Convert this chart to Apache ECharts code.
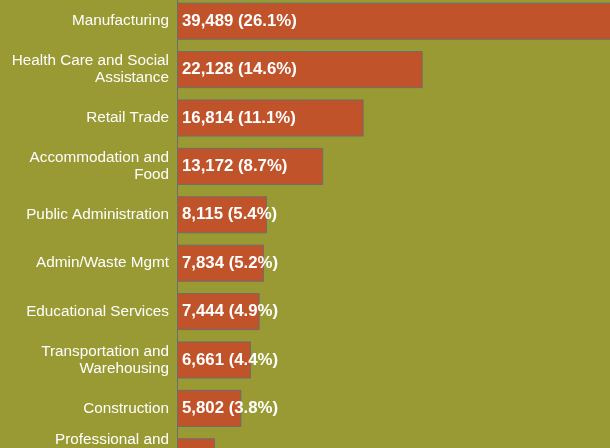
<!DOCTYPE html>
<html>
<head>
<meta charset="utf-8">
<script src="https://cdn.jsdelivr.net/npm/echarts@6/dist/echarts.min.js"></script>
<style>
  html, body { margin: 0; padding: 0; background: #9a9a34; }
  #main { width: 610px; height: 448px; }
</style>
</head>
<body>
<div id="main"></div>
<script>
// industries, largest first
var industries = [
    'Manufacturing',
    'Health Care and Social\nAssistance',
    'Retail Trade',
    'Accommodation and\nFood',
    'Public Administration',
    'Admin/Waste Mgmt',
    'Educational Services',
    'Transportation and\nWarehousing',
    'Construction',
    'Professional and\nTechnical\nServices'
];
var jobs = [39489, 22128, 16814, 13172, 8115, 7834, 7444, 6661, 5802, 3420];
var shares = [26.1, 14.6, 11.1, 8.7, 5.4, 5.2, 4.9, 4.4, 3.8, 2.3];

function fmt(n) {
    return String(n).replace(/\B(?=(\d{3})+(?!\d))/g, ',');
}

var myChart = echarts.init(document.getElementById('main'));
myChart.setOption({
    backgroundColor: '#9a9a34',
    animation: false,
    grid: {
        left: 177,
        top: -3,
        width: 444,
        height: 484,
        containLabel: false,
        outerBoundsMode: 'none'
    },
    xAxis: {
        type: 'value',
        min: 0,
        max: 40000,
        show: false
    },
    yAxis: {
        type: 'category',
        data: industries,
        inverse: true,
        axisLine: { show: true, lineStyle: { color: '#6d6d6d', width: 1 } },
        axisTick: { show: false },
        axisLabel: {
            color: '#ffffff',
            fontFamily: 'Liberation Sans, Arial, sans-serif',
            fontSize: 15.3,
            lineHeight: 17,
            margin: 8,
            align: 'right'
        }
    },
    series: [{
        type: 'bar',
        data: jobs,
        barWidth: '76.6%',
        itemStyle: {
            color: '#c1532a',
            borderColor: '#6d6d6d',
            borderWidth: 1
        },
        label: {
            show: true,
            position: 'insideLeft',
            distance: 5,
            color: '#ffffff',
            fontWeight: 'bold',
            fontFamily: 'Liberation Sans, Arial, sans-serif',
            fontSize: 16.8,
            formatter: function (p) {
                return fmt(p.value) + ' (' + shares[p.dataIndex].toFixed(1) + '%)';
            }
        }
    }]
});

window.addEventListener('resize', function () { myChart.resize(); });
</script>
</body>
</html>
